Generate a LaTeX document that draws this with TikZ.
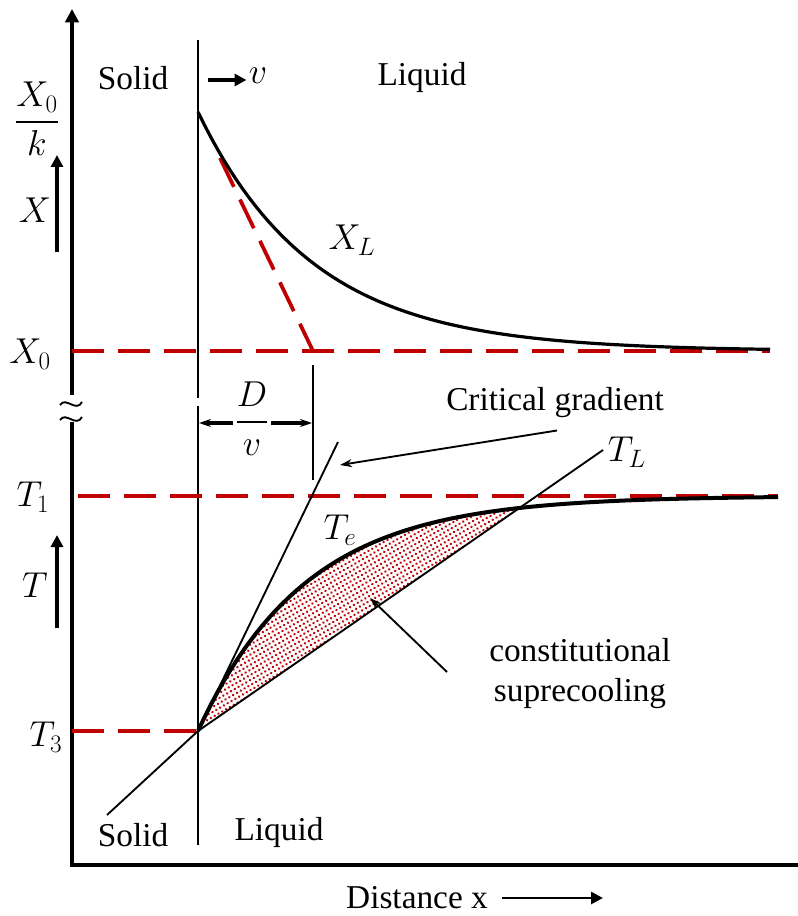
\documentclass[tikz,border=0pt]{standalone}
\usepackage{fix-cm}
\usepackage{amsmath}
\usepackage{fontspec}
\setmainfont{Liberation Serif}
\usetikzlibrary{arrows.meta, positioning, patterns.meta}
\definecolor{cred}{HTML}{C00000}
\tikzset{
  every picture/.style={line width=1.5pt},
  axis/.style={line width=2.8pt},
  guide/.style={draw=cred, dash pattern=on 24pt off 10.5pt, line width=2.8pt},
  curve/.style={line width=2.4pt},
  thinline/.style={line width=1.4pt},
  arrow/.style={-{Triangle[length=9pt, width=9pt]}, line width=2.4pt},
  pointer/.style={-{Stealth[length=9pt, width=6pt]}, line width=1.4pt},
  lbl/.style={font=\fontsize{25}{30}\selectfont, inner sep=1pt},
  mlbl/.style={font=\fontsize{27}{32}\selectfont, inner sep=1pt},
}

\begin{document}
\begin{tikzpicture}[x=0.75pt, y=-0.75pt]
  \useasboundingbox (0,0) rectangle (798,916);
  % ---------------- axes with break
  \draw[axis, -{Triangle[length=10pt, width=10pt]}] (72,395) -- (72,9);
  \draw[axis] (72,422) -- (72,865) -- (798,865);
  \draw[thinline] (60,405) .. controls (66,396) and (76,413) .. (82,402);
  \draw[thinline] (60,420) .. controls (66,411) and (76,428) .. (82,417);
  % ---------------- interface
  \draw[thinline] (198,40) -- (198,398);
  \draw[thinline] (198,406) -- (198,845);
  \node[lbl] (solidTop) at (133,78) {Solid};
  \node[lbl] (liquidTop) at (422,77) {Liquid};
  \node[mlbl] (vel) at (258,76) {$v$};
  \coordinate (velTail) at (208,80);
  \draw[arrow] (velTail) -- (vel.west |- velTail);
  % ---------------- concentration profile
  \node[mlbl] (xk) at (37,119) {$\dfrac{X_0}{k}$};
  \node[mlbl] (xlab) at (35,210) {$X$};
  \coordinate (xFoot) at (57,252);
  \coordinate (xHead) at (57,155);
  \draw[arrow] (xFoot) -- (xHead);
  \node[mlbl] (x0) at (30,354) {$X_0$};
  \draw[guide] (72,351) -- (770,351);
  \draw[guide] (220,158) -- (313,351);
  \draw[curve] plot[domain=198:770, samples=90] (\x, {351-239*exp(-(\x-198)/115)});
  \node[mlbl] (xl) at (352,240) {$X_L$};
  % ---------------- D/v
  \draw[thinline] (313,365) -- (313,480);
  \node[mlbl] (dv) at (252,419) {$\dfrac{D}{v}$};
  \coordinate (dvLeft) at (199,423);
  \coordinate (dvRight) at (312,423);
  \draw[pointer, line width=2.4pt] (dv.west |- dvLeft) -- (dvLeft);
  \draw[pointer, line width=2.4pt] (dv.east |- dvRight) -- (dvRight);
  % ---------------- temperature profile
  \node[mlbl] (t1) at (33,497) {$T_1$};
  \node[mlbl] (tlab) at (35,585) {$T$};
  \coordinate (tFoot) at (57,628);
  \coordinate (tHead) at (57,535);
  \draw[arrow] (tFoot) -- (tHead);
  \node[mlbl] (t3) at (46,737) {$T_3$};
  \draw[guide] (78,496) -- (778,496);
  \draw[guide] (72,731) -- (198,731);
  \fill[pattern={Dots[distance=3.3pt, radius=1pt, angle=30]}, pattern color=cred]
    plot[domain=198:520, samples=60] (\x, {496+235*exp(-(\x-198)/108)}) -- (198,731) -- cycle;
  \draw[line width=3pt] plot[domain=198:778, samples=90] (\x, {496+235*exp(-(\x-198)/108)});
  \draw[thinline] (107,815) -- (198,731) -- (603,450);
  \draw[thinline] (198,731) -- (338,442);
  \node[mlbl] (te) at (340,530) {$T_e$};
  \node[mlbl] (tl) at (627,452) {$T_L$};
  % ---------------- annotations
  \node[lbl] (crit) at (555,403) {Critical gradient};
  \coordinate (critTip) at (340,465);
  \draw[pointer] (crit.south) ++(2,10) -- (critTip);
  \node[lbl, align=center] (supercool) at (580,674) {constitutional\\suprecooling};
  \coordinate (scFoot) at (447,672);
  \coordinate (scTip) at (370,598);
  \draw[pointer] (scFoot) -- (scTip);
  \node[lbl] (solidBot) at (133,835) {Solid};
  \node[lbl] (liquidBot) at (279,832) {Liquid};
  \node[lbl] (dist) at (417,898) {Distance x};
  \coordinate (distTip) at (603,898);
  \draw[arrow, line width=2pt] (dist.east) ++(12,0) -- (distTip);
\end{tikzpicture}
\end{document}
